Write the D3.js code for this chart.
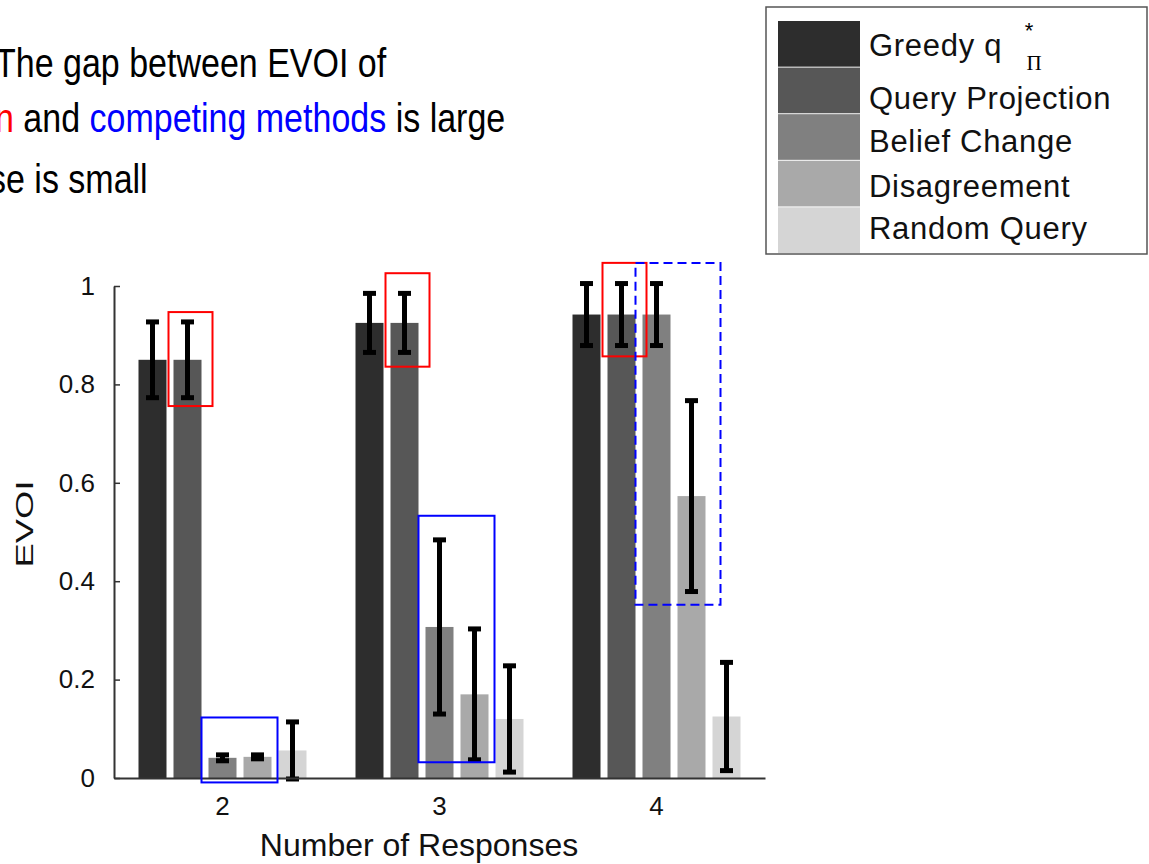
<!DOCTYPE html>
<html>
<head>
<meta charset="utf-8">
<script src="https://cdn.jsdelivr.net/npm/d3@7"></script>
<style>
  body { margin: 0; background: #fff; }
  text { font-family: "Liberation Sans", Arial, Helvetica, sans-serif; }
</style>
</head>
<body>
<div id="vis1"></div>
<script>
const FRAME_HEIGHT = 864;
const FRAME_WIDTH = 1149;
const PLOT = {left: 114, right: 765, top: 286, bottom: 778};

// data
const GROUPS = ["2", "3", "4"];
const SERIES = ["Greedy q", "Query Projection", "Belief Change", "Disagreement", "Random Query"];
const MEANS = [
    [0.850, 0.850, 0.041, 0.043, 0.056],
    [0.925, 0.925, 0.307, 0.170, 0.120],
    [0.942, 0.942, 0.942, 0.573, 0.125]
];
const ERRORS = [
    [0.077, 0.077, 0.006, 0.004, 0.058],
    [0.060, 0.060, 0.177, 0.133, 0.108],
    [0.063, 0.063, 0.063, 0.194, 0.110]
];
const Y_TICKS = [0, 0.2, 0.4, 0.6, 0.8, 1];
const COLORS = ["#2d2d2d", "#575757", "#808080", "#a9a9a9", "#d5d5d5"];

// highlight boxes (group, series range, value range)
const RED_BOXES = [
    {group: "2", from: 1, to: 1, lo: 0.756, hi: 0.947},
    {group: "3", from: 1, to: 1, lo: 0.836, hi: 1.026},
    {group: "4", from: 1, to: 1, lo: 0.857, hi: 1.047}
];
const BLUE_BOXES = [
    {group: "2", from: 2, to: 3, lo: -0.009, hi: 0.123, dashed: false},
    {group: "3", from: 2, to: 3, lo: 0.032, hi: 0.533, dashed: false},
    {group: "4", from: 2, to: 3, lo: 0.352, hi: 1.047, dashed: true}
];

// slide text
const TITLE_LINES = [
    [{t: "The gap between EVOI of", c: "#000"}],
    [{t: "n", c: "#ff0000"}, {t: " and ", c: "#000"}, {t: "competing methods", c: "#0000ff"}, {t: " is large", c: "#000"}],
    [{t: "se is small", c: "#000"}]
];

const FRAME = d3.select("#vis1")
    .append("svg")
    .attr("height", FRAME_HEIGHT)
    .attr("width", FRAME_WIDTH)
    .style("background", "#fff");

// title lines (source text is taller than it is wide)
const TITLE_BASE = [77, 132, 193];
TITLE_LINES.forEach((line, i) => {
    const t = FRAME.append("text")
        .attr("transform", "translate(" + (i == 2 ? -11 : -5) + "," + TITLE_BASE[i] + ") scale(1,1.2)")
        .style("font-size", "34px");
    line.forEach((part) => {
        t.append("tspan").attr("fill", part.c).text(part.t);
    });
});

// scales
const X0 = d3.scaleBand()
    .domain(GROUPS)
    .range([PLOT.left, PLOT.right])
    .padding(0);

const X1 = d3.scaleBand()
    .domain(d3.range(SERIES.length))
    .range([0, X0.bandwidth()])
    .paddingInner(0.2)
    .paddingOuter(0.7);

const Y = d3.scaleLinear()
    .domain([0, 1])
    .range([PLOT.bottom, PLOT.top]);

// flatten for drawing
let rows = [];
GROUPS.forEach((g, gi) => {
    SERIES.forEach((s, si) => {
        rows.push({group: g, s: si, mean: MEANS[gi][si], err: ERRORS[gi][si]});
    });
});

// bars
FRAME.selectAll(".bar")
    .data(rows)
    .enter()
    .append("rect")
    .attr("class", "bar")
    .attr("x", (d) => X0(d.group) + X1(d.s))
    .attr("y", (d) => Y(d.mean))
    .attr("width", X1.bandwidth())
    .attr("height", (d) => Y(0) - Y(d.mean))
    .style("fill", (d) => COLORS[d.s]);

// error bars
const CAP = 6.5;
const eb = FRAME.selectAll(".err")
    .data(rows)
    .enter()
    .append("g")
    .attr("class", "err")
    .attr("transform", (d) => "translate(" + (X0(d.group) + X1(d.s) + X1.bandwidth() / 2) + ",0)");

eb.append("line")
    .attr("y1", (d) => Y(d.mean - d.err))
    .attr("y2", (d) => Y(d.mean + d.err))
    .attr("stroke", "#000")
    .attr("stroke-width", 5);

eb.selectAll(".cap")
    .data((d) => [d.mean - d.err, d.mean + d.err])
    .enter()
    .append("line")
    .attr("class", "cap")
    .attr("x1", -CAP)
    .attr("x2", CAP)
    .attr("y1", (v) => Y(v))
    .attr("y2", (v) => Y(v))
    .attr("stroke", "#000")
    .attr("stroke-width", 5);

// axes
const yAxis = FRAME.append("g")
    .attr("transform", "translate(" + PLOT.left + ",0)")
    .call(d3.axisLeft(Y)
        .tickValues(Y_TICKS)
        .tickFormat((d) => String(d))
        .tickSizeInner(-6)
        .tickSizeOuter(0)
        .tickPadding(19));

const xAxis = FRAME.append("g")
    .attr("transform", "translate(0," + PLOT.bottom + ")")
    .call(d3.axisBottom(X0)
        .tickSize(0)
        .tickPadding(19));

[yAxis, xAxis].forEach((ax) => {
    ax.select(".domain").attr("stroke", "#333").attr("stroke-width", 2);
    ax.selectAll(".tick line").attr("stroke", "#333").attr("stroke-width", 1.5);
    ax.selectAll(".tick text")
        .attr("fill", "#111")
        .style("font-size", "26px")
        .style("font-family", "'Liberation Sans', Arial, sans-serif");
});

FRAME.append("text")
    .attr("x", 419)
    .attr("y", 856)
    .attr("text-anchor", "middle")
    .attr("fill", "#111")
    .style("font-size", "32px")
    .text("Number of Responses");

FRAME.append("text")
    .attr("transform", "translate(33," + 524 + ") rotate(-90)")
    .attr("text-anchor", "middle")
    .attr("fill", "#111")
    .attr("textLength", 87)
    .attr("lengthAdjust", "spacingAndGlyphs")
    .style("font-size", "23px")
    .text("EVOI");

// highlight boxes
function box(d, padL, padR) {
    return {
        x: X0(d.group) + X1(d.from) - padL,
        x2: X0(d.group) + X1(d.to) + X1.bandwidth() + padR,
        y: Y(d.hi),
        y2: Y(d.lo)
    };
}

FRAME.selectAll(".redbox")
    .data(RED_BOXES)
    .enter()
    .append("rect")
    .attr("class", "redbox")
    .each(function (d) {
        const b = box(d, 5, 11);
        d3.select(this).attr("x", b.x).attr("y", b.y)
            .attr("width", b.x2 - b.x).attr("height", b.y2 - b.y);
    })
    .attr("fill", "none")
    .attr("stroke", "#ff0000")
    .attr("stroke-width", 2);

FRAME.selectAll(".bluebox")
    .data(BLUE_BOXES)
    .enter()
    .append("rect")
    .attr("class", "bluebox")
    .each(function (d) {
        const b = box(d, 7, d.dashed ? 15 : 6);
        d3.select(this).attr("x", b.x).attr("y", b.y)
            .attr("width", b.x2 - b.x).attr("height", b.y2 - b.y);
    })
    .attr("fill", "none")
    .attr("stroke", "#0000ff")
    .attr("stroke-width", 2)
    .attr("stroke-dasharray", (d) => d.dashed ? "9,5" : null);

// legend
const LEG = FRAME.append("g");
LEG.append("rect")
    .attr("x", 766).attr("y", 7)
    .attr("width", 381).attr("height", 247)
    .attr("fill", "#fff")
    .attr("stroke", "#555")
    .attr("stroke-width", 1.5);

const LY = d3.scaleBand()
    .domain(d3.range(SERIES.length))
    .range([21, 253])
    .paddingInner(0.02);

// small per-row baseline nudges seen in the source legend
const LEG_NUDGE = [12, 19, 15, 13, 9];

LEG.selectAll(".sw")
    .data(SERIES)
    .enter()
    .append("rect")
    .attr("class", "sw")
    .attr("x", 778)
    .attr("y", (d, i) => LY(i))
    .attr("width", 82)
    .attr("height", LY.bandwidth())
    .attr("fill", (d, i) => COLORS[i]);

LEG.selectAll(".lt")
    .data(SERIES)
    .enter()
    .append("text")
    .attr("class", "lt")
    .attr("x", 869)
    .attr("y", (d, i) => LY(i) + LY.bandwidth() / 2 + LEG_NUDGE[i])
    .attr("fill", "#111")
    .style("font-size", "31px")
    .style("letter-spacing", "0.7px")
    .text((d) => d);

LEG.append("text")
    .attr("x", 1029).attr("y", 38)
    .attr("text-anchor", "middle")
    .style("font-size", "22px")
    .text("*");

LEG.append("text")
    .attr("x", 1034).attr("y", 70)
    .attr("text-anchor", "middle")
    .style("font-size", "21px")
    .style("font-family", "'Liberation Serif', 'DejaVu Serif', serif")
    .text("Π");
</script>
</body>
</html>
